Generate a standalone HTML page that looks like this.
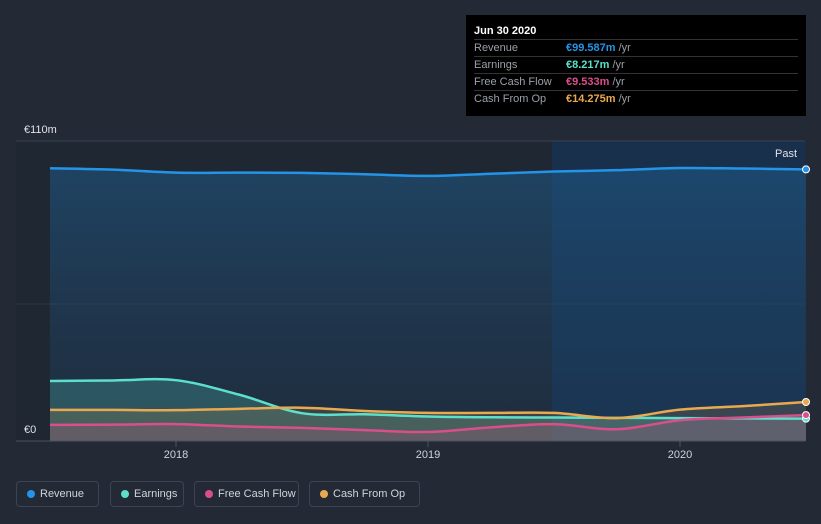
<!DOCTYPE html>
<html><head><meta charset="utf-8"><style>
body{margin:0;background:#232a36;font-family:"Liberation Sans",sans-serif;}
svg text{font-family:"Liberation Sans",sans-serif;}
.pill{position:absolute;top:481px;height:26px;border:1px solid #3c4454;border-radius:4px;color:#d0d4da;font-size:11px;line-height:24px;box-sizing:border-box;padding-left:23px;white-space:nowrap}
.pill i{position:absolute;left:10px;top:8px;width:8px;height:8px;border-radius:50%}
</style></head><body>
<div style="position:relative;width:821px;height:524px;overflow:hidden">
<svg id="c" width="821" height="524" style="position:absolute;left:0;top:0">
<defs>
<linearGradient id="rg" x1="0" y1="0" x2="0" y2="1"><stop offset="0" stop-color="#1f5a88" stop-opacity="0.55"/><stop offset="1" stop-color="#1f4060" stop-opacity="0.25"/></linearGradient>
</defs>
<rect x="16" y="141" width="789" height="300" fill="#1f2733"/>
<rect x="552" y="141" width="253" height="300" fill="#173457" opacity="0.7"/>
<line x1="16" y1="141" x2="805" y2="141" stroke="#3a4250"/>
<line x1="16" y1="304" x2="805" y2="304" stroke="#2f3744"/>
<g id="series"></g>
<line x1="16" y1="441" x2="805" y2="441" stroke="#4a5260"/>
<text x="24" y="133" fill="#e0e3e8" font-size="11">€110m</text>
<text x="24" y="433" fill="#e0e3e8" font-size="11">€0</text>
<text x="797" y="157" fill="#e0e3e8" font-size="11" text-anchor="end">Past</text>
<g id="xt"></g>
</svg>
<div style="position:absolute;left:466px;top:15px;width:340px;height:101px;background:#000;font-size:11px;color:#9aa0a8">
<div style="position:absolute;left:8px;top:10px;color:#fff;font-weight:bold">Jun 30 2020</div>
<div style="position:absolute;left:8px;right:8px;top:24px;border-top:1px solid #333"></div>
<div style="position:absolute;left:8px;top:27px">Revenue</div><div style="position:absolute;left:100px;top:27px"><b style="color:#2394e8">€99.587m</b> /yr</div>
<div style="position:absolute;left:8px;right:8px;top:41px;border-top:1px solid #333"></div>
<div style="position:absolute;left:8px;top:44px">Earnings</div><div style="position:absolute;left:100px;top:44px"><b style="color:#5ce0cc">€8.217m</b> /yr</div>
<div style="position:absolute;left:8px;right:8px;top:58px;border-top:1px solid #333"></div>
<div style="position:absolute;left:8px;top:61px">Free Cash Flow</div><div style="position:absolute;left:100px;top:61px"><b style="color:#d94f8a">€9.533m</b> /yr</div>
<div style="position:absolute;left:8px;right:8px;top:75px;border-top:1px solid #333"></div>
<div style="position:absolute;left:8px;top:78px">Cash From Op</div><div style="position:absolute;left:100px;top:78px"><b style="color:#e9a94f">€14.275m</b> /yr</div>
</div>
<div class="pill" style="left:16px;width:83px"><i style="background:#2394e8"></i>Revenue</div>
<div class="pill" style="left:110px;width:74px"><i style="background:#5ce0cc"></i>Earnings</div>
<div class="pill" style="left:194px;width:105px"><i style="background:#d94f8a"></i>Free Cash Flow</div>
<div class="pill" style="left:309px;width:111px"><i style="background:#e9a94f"></i>Cash From Op</div>
</div>
<script>
const dates=[2017.5,2017.75,2018,2018.25,2018.5,2018.75,2019,2019.25,2019.5,2019.75,2020,2020.25,2020.5];
const revenue=[100,99.5,98.4,98.4,98.3,97.8,97.2,98,98.8,99.3,100.1,99.9,99.6];
const earnings=[22,22.2,22.3,17,10.2,9.8,9.0,8.7,8.6,8.5,8.4,8.3,8.2];
const cashFromOp=[11.4,11.4,11.3,11.8,12.2,11,10.3,10.3,10.3,8.4,11.5,12.8,14.3];
const freeCashFlow=[5.9,6,6.2,5.3,4.8,4,3.3,5,6.2,4.3,7.6,8.6,9.5];
const xTicks=[2018,2019,2020];
const X=d=>176+(d-2018)*252;
const Y=v=>441-v*300/110;
const NS="http://www.w3.org/2000/svg";
function pathD(vals){
  const p=vals.map((v,i)=>[X(dates[i]),Y(v)]);
  let d="M"+p[0][0]+","+p[0][1];
  for(let i=0;i<p.length-1;i++){
    const p0=p[i-1]||p[i],p1=p[i],p2=p[i+1],p3=p[i+2]||p2;
    const c1=[p1[0]+(p2[0]-p0[0])/6,p1[1]+(p2[1]-p0[1])/6];
    const c2=[p2[0]-(p3[0]-p1[0])/6,p2[1]-(p3[1]-p1[1])/6];
    d+=" C"+c1+" "+c2+" "+p2;
  }
  return d;
}
const g=document.getElementById('series');
const series=[[revenue,'#2394e8','url(#rg)','revenue'],[earnings,'#5ce0cc','rgba(92,224,204,0.22)','earnings'],[cashFromOp,'#e9a94f','rgba(233,169,79,0.15)','cash-from-op'],[freeCashFlow,'#d94f8a','rgba(217,79,138,0.18)','free-cash-flow']];
series.forEach(([vals,col,fill,name])=>{
  const d=pathD(vals);
  const x0=X(dates[0]),x1=X(dates[dates.length-1]);
  const a=document.createElementNS(NS,'path');
  a.setAttribute('d',d+" L"+x1+",441 L"+x0+",441 Z");
  a.setAttribute('fill',fill);
  
  
  g.appendChild(a);
});
series.forEach(([vals,col,fill,name])=>{
  const l=document.createElementNS(NS,'path');
  l.setAttribute('d',pathD(vals));
  l.setAttribute('fill','none');l.setAttribute('stroke',col);l.setAttribute('stroke-width','2.5');
  
  
  g.appendChild(l);
  const c=document.createElementNS(NS,'circle');
  c.setAttribute('cx',X(dates[dates.length-1]));c.setAttribute('cy',Y(vals[vals.length-1]));
  c.setAttribute('r','3.5');c.setAttribute('fill',col);c.setAttribute('stroke','#fff');c.setAttribute('stroke-width','1');
  
  
  g.appendChild(c);
});
const xt=document.getElementById('xt');
xTicks.forEach(t=>{
  const ln=document.createElementNS(NS,'line');
  ln.setAttribute('x1',X(t));ln.setAttribute('x2',X(t));ln.setAttribute('y1',441);ln.setAttribute('y2',447);ln.setAttribute('stroke','#4a5260');
  
  
  xt.appendChild(ln);
  const tx=document.createElementNS(NS,'text');
  tx.setAttribute('x',X(t));tx.setAttribute('y',458);tx.setAttribute('fill','#d0d4da');tx.setAttribute('font-size','11');tx.setAttribute('text-anchor','middle');
  tx.textContent=t;
  
  
  xt.appendChild(tx);
});
</script>
</body></html>
